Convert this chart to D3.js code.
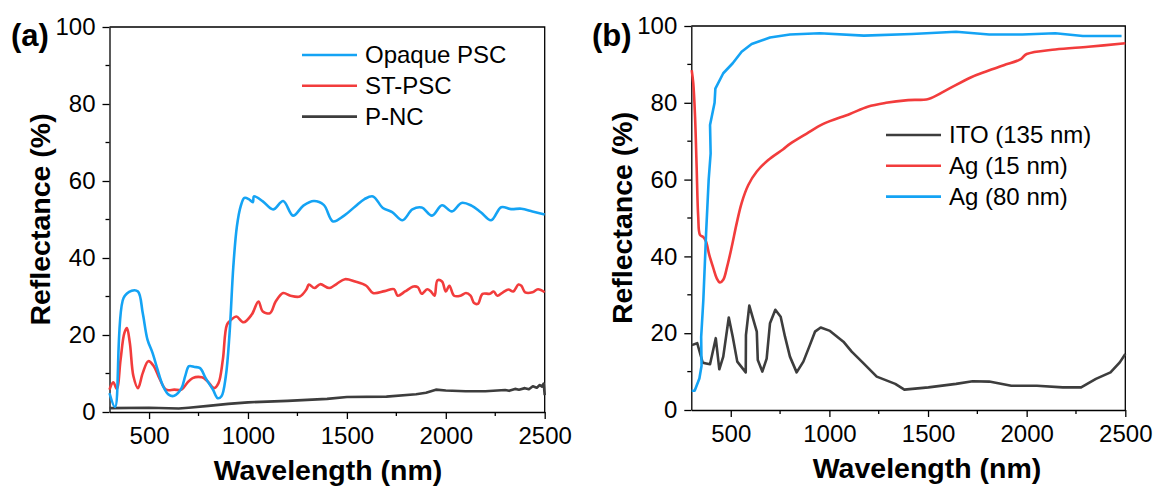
<!DOCTYPE html>
<html>
<head>
<meta charset="utf-8">
<script src="https://cdn.jsdelivr.net/npm/d3@7"></script>
<style>
  body { margin: 0; background: #fff; }
  svg { font-family: "Liberation Sans", Arial, sans-serif; }
</style>
</head>
<body>
<script>
const width = 1157
const height = 489

// panel (a) data: [wavelength nm, reflectance %]
const opaquePSC = [[300,4.9],[328,1.3],[371,29.6],[412,31.5],[444,31.3],[468,25.7],[492,18.8],[518,15.3],[543,11],[571,6.7],[599,4.5],[627,4.2],[664,6.2],[683,9.4],[702,11.9],[730,11.7],[758,11.4],[786,8.8],[823,5.8],[847,3.6],[866,4.1],[888,9.3],[907,20.5],[926,37.8],[944,48.2],[963,53.4],[982,55.6],[1004,55.3],[1025,54.5],[1030,56],[1075,54.7],[1127,52.6],[1178,54.8],[1228,51],[1280,53.6],[1333,54.8],[1383,53.8],[1430,49.5],[1486,51],[1542,53.4],[1589,55.3],[1632,56],[1682,53],[1729,51.9],[1781,49.8],[1831,52.6],[1878,53.1],[1930,51],[1981,53.7],[2031,52.1],[2080,54.3],[2130,53.6],[2177,51.9],[2229,49.8],[2280,53.2],[2330,52.7],[2382,52.8],[2438,52.1],[2500,51.3]]
const stPSC = [[300,5.8],[319,7.7],[337,6],[356,13.6],[375,20.5],[388,21.8],[403,17.9],[421,9.3],[444,6.2],[468,10.1],[496,13.2],[524,11.9],[552,8.8],[586,5.8],[627,5.8],[664,5.8],[692,7.5],[720,8.8],[767,9],[795,8],[829,6.2],[851,7.5],[873,13.6],[894,22.7],[916,24],[941,24.8],[978,23.3],[1019,25.3],[1053,28.7],[1075,26.1],[1112,25.7],[1140,28.7],[1178,30.9],[1215,30.2],[1262,30],[1295,31.8],[1308,33.1],[1336,32.2],[1365,33.2],[1411,32.2],[1449,33.3],[1490,34.5],[1542,33.9],[1598,32.8],[1632,30.9],[1691,31.4],[1738,31.9],[1757,30.2],[1794,31.3],[1837,32.6],[1859,32.4],[1878,30.7],[1906,31.9],[1925,31.3],[1943,30.2],[1958,34.2],[1981,33.9],[2000,31.3],[2018,32.8],[2042,30.2],[2074,30.2],[2102,30.9],[2125,30.2],[2143,28.3],[2162,28.1],[2186,30.7],[2223,30.7],[2242,31.3],[2261,30.2],[2289,31.1],[2317,31.8],[2341,31.3],[2367,33.1],[2382,32.8],[2401,31.1],[2438,31.1],[2466,31.9],[2500,31.1]]
const pNC = [[300,1.0],[500,1.1],[650,0.9],[700,1.1],[800,1.6],[900,2.1],[1000,2.5],[1200,2.9],[1400,3.4],[1500,3.9],[1700,4.0],[1850,4.6],[1900,5.0],[1950,5.8],[2000,5.6],[2100,5.4],[2200,5.4],[2300,5.7],[2320,5.5],[2350,6.0],[2370,5.8],[2400,6.2],[2420,5.9],[2440,6.7],[2460,6.3],[2475,7.0],[2485,6.6],[2495,7.4],[2500,4.4]]

// panel (b) data
const ito135 = [[302,16.9],[330,17.4],[358,12.3],[369,12.2],[395,11.9],[424,18.7],[442,10.6],[462,13.9],[490,24.1],[510,19.1],[533,12.6],[576,9.8],[577,19.5],[594,27.2],[632,20.4],[637,13.0],[660,10.0],[682,13.4],[699,22.6],[726,26.1],[753,24.3],[775,19.1],[800,13.9],[834,9.8],[868,12.6],[898,16.5],[927,20.4],[956,21.5],[1003,20.6],[1071,17.8],[1113,15.2],[1172,12.2],[1240,8.7],[1334,6.8],[1380,5.3],[1502,5.9],[1642,6.8],[1726,7.5],[1810,7.4],[1922,6.3],[2052,6.3],[2183,5.9],[2276,5.9],[2351,8.1],[2425,9.8],[2472,12.4],[2500,14.6]]
const ag15 = [[302,88.5],[310,85.1],[319,76.4],[327,63.4],[335,50.4],[344,45.6],[361,45.0],[375,43.8],[391,40.4],[412,36.9],[429,34.3],[445,33.2],[462,33.9],[482,37.4],[505,42.5],[530,48.6],[555,53.9],[589,58.6],[632,62.1],[690,65.1],[766,67.9],[800,69.3],[885,72.0],[969,74.5],[1104,77.1],[1194,79.0],[1287,80.0],[1399,80.7],[1502,81.0],[1586,83.1],[1716,86.6],[1791,88.1],[1884,89.8],[1968,91.3],[2000,92.7],[2145,93.9],[2313,94.6],[2500,95.5]]
const ag80 = [[302,5.0],[317,5.0],[341,8.2],[352,11.5],[350,19.0],[361,28.6],[375,46],[388,59.9],[398,66.8],[395,74.2],[418,80],[422,83.7],[462,87.7],[510,90.3],[555,93.3],[606,95.3],[699,97.0],[800,97.8],[951,98.1],[1175,97.5],[1418,97.9],[1642,98.5],[1810,97.8],[1978,97.8],[2145,98.1],[2285,97.4],[2481,97.4]]

const xTicks = [500, 1000, 1500, 2000, 2500]
const xMinor = [750, 1250, 1750, 2250]
const yTicks = [0, 20, 40, 60, 80, 100]
const yMinor = [10, 30, 50, 70, 90]

const BLUE = '#14a3f4', RED = '#f23c3c', DARK = '#3d3d3d'

let svg = d3.select('body').append('svg')
    .attr('width', width)
    .attr('height', height)

function drawPanel(p) {
    let x = d3.scaleLinear().domain([300, 2500]).range([p.left, p.right])
    let y = d3.scaleLinear().domain([0, 100]).range([p.bottom, p.top])
    let g = svg.append('g')

    // frame (top and right)
    g.append('path')
        .attr('d', `M${p.left},${p.top}H${p.right}V${p.bottom}`)
        .attr('fill', 'none').attr('stroke', '#000').attr('stroke-width', 1.3)

    // bottom axis
    let xa = g.append('g').attr('transform', `translate(0,${p.bottom})`)
        .call(d3.axisBottom(x).tickValues(xTicks).tickFormat(d3.format('d'))
            .tickSize(7).tickSizeOuter(0).tickPadding(8))
    xa.append('g').selectAll('line').data(xMinor).join('line')
        .attr('x1', d => x(d)).attr('x2', d => x(d)).attr('y1', 0).attr('y2', 4)
        .attr('stroke', '#000').attr('stroke-width', 1.3)

    // left axis
    let ya = g.append('g').attr('transform', `translate(${p.left},0)`)
        .call(d3.axisLeft(y).tickValues(yTicks).tickFormat(d3.format('d'))
            .tickSize(7).tickSizeOuter(0).tickPadding(7))
    ya.append('g').selectAll('line').data(yMinor).join('line')
        .attr('y1', d => y(d)).attr('y2', d => y(d)).attr('x1', 0).attr('x2', -4)
        .attr('stroke', '#000').attr('stroke-width', 1.3)

    g.selectAll('.domain').attr('stroke-width', 1.3)
    g.selectAll('.tick line').attr('stroke-width', 1.3)
    g.selectAll('.tick text').attr('font-size', 24).attr('fill', '#000')
        .attr('font-family', '"Liberation Sans", Arial, sans-serif')

    // lines
    p.series.forEach(s => {
        let line = d3.line().x(d => x(d[0])).y(d => y(d[1]))
            .curve(s.smooth ? d3.curveCatmullRom.alpha(0.5) : d3.curveLinear)
        g.append('path').datum(s.data)
            .attr('d', line)
            .attr('fill', 'none')
            .attr('stroke', s.color)
            .attr('stroke-width', 2.6)
            .attr('stroke-linejoin', 'round')
    })

    // legend
    p.legend.forEach((s, i) => {
        let ly = p.legY + i * 30.8
        g.append('line')
            .attr('x1', p.legX).attr('x2', p.legX + 55)
            .attr('y1', ly).attr('y2', ly)
            .attr('stroke', s.color).attr('stroke-width', 2.6)
        g.append('text')
            .attr('x', p.legX + 63).attr('y', ly)
            .attr('dy', '0.35em')
            .attr('font-size', 24)
            .text(s.name)
    })

    // titles
    g.append('text')
        .attr('x', p.xTitleX).attr('y', p.bottom + 68)
        .attr('text-anchor', 'middle')
        .attr('font-size', 28.5).attr('font-weight', 'bold')
        .text('Wavelength (nm)')
    g.append('text')
        .attr('transform', `translate(${p.left - 69},${(p.top + p.bottom) / 2}) rotate(-90)`)
        .attr('text-anchor', 'middle')
        .attr('dy', '0.35em')
        .attr('font-size', 28.5).attr('font-weight', 'bold')
        .text('Reflectance (%)')
    g.append('text')
        .attr('x', p.labX).attr('y', 46)
        .attr('font-size', 31).attr('font-weight', 'bold')
        .text(p.label)
}

drawPanel({
    left: 109.5, right: 544.7, top: 27, bottom: 412,
    series: [
        { data: pNC, color: DARK },
        { data: stPSC, color: RED, smooth: true },
        { data: opaquePSC, color: BLUE, smooth: true }
    ],
    legend: [
        { name: 'Opaque PSC', color: BLUE },
        { name: 'ST-PSC', color: RED },
        { name: 'P-NC', color: DARK }
    ],
    legX: 302, legY: 55,
    xTitleX: 328, labX: 11, label: '(a)'
})

drawPanel({
    left: 691.3, right: 1125.3, top: 26, bottom: 410,
    series: [
        { data: ito135, color: DARK },
        { data: ag15, color: RED, smooth: true },
        { data: ag80, color: BLUE }
    ],
    legend: [
        { name: 'ITO (135 nm)', color: DARK },
        { name: 'Ag (15 nm)', color: RED },
        { name: 'Ag (80 nm)', color: BLUE }
    ],
    legX: 886, legY: 135,
    xTitleX: 927, labX: 592, label: '(b)'
})
</script>
</body>
</html>
